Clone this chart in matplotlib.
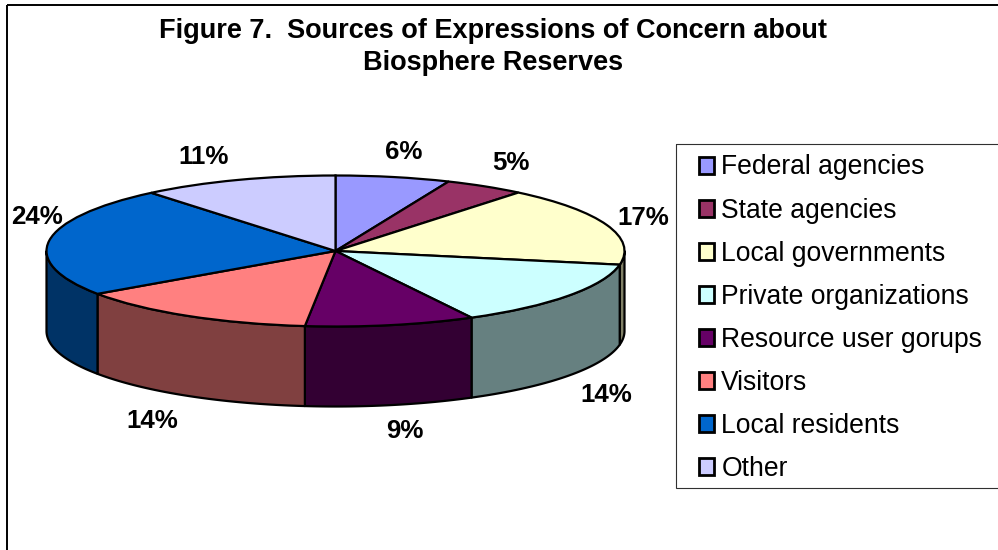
import numpy as np
import matplotlib
matplotlib.use('Agg')
from matplotlib import pyplot as plt
from matplotlib.patches import Rectangle

plt.rcParams['font.family'] = ['Liberation Sans', 'DejaVu Sans']

# data
title = 'Figure 7.  Sources of Expressions of Concern about\nBiosphere Reserves'
categories = ['Federal agencies', 'State agencies', 'Local governments', 'Private organizations',
              'Resource user gorups', 'Visitors', 'Local residents', 'Other']
values = [6.4, 4.51, 16.99, 14.3, 9.49, 13.71, 23.6, 11.0]

# colours
top_colors = ['#9999FF', '#993366', '#FFFFCC', '#CCFFFF', '#660066', '#FF8080', '#0066CC', '#CCCCFF']
side_colors = ['#4D4D80', '#4D1A33', '#808066', '#668080', '#330033', '#804040', '#003366', '#666680']

# pie geometry in pixels
W, H = 998, 550
cx, cy = 335.5, 251
rx, ry = 289, 75.5
depth = 80
# label centres in pixels
label_pos = [(404, 152), (511, 163), (643, 218), (606, 395), (405, 431), (152, 421), (37, 217), (204, 157)]

fig = plt.figure(figsize=(W / 100, H / 100), dpi=100)

# pixel layer for frames and text
bg = fig.add_axes([0, 0, 1, 1])
bg.set_xlim(0, W)
bg.set_ylim(H, 0)
bg.axis('off')
bg.add_patch(Rectangle((7.5, 4.5), W + 20, H + 20, fill=False, edgecolor='black', linewidth=1.4))
bg.add_patch(Rectangle((676, 144), W, 344, fill=False, edgecolor='#303030', linewidth=0.8))

# pie layer, one data unit = one radius
ax = fig.add_axes([0, 0, 1, 1])
ax.patch.set_alpha(0)

edges = 90 - 3.6 * np.cumsum([0] + values)
dz = depth / ry
for i in range(len(values)):
    a = min(edges[i], 0)
    b = max(edges[i + 1], -180)
    if a <= b:
        continue
    t = np.radians(np.linspace(a, b, 60))
    xs = np.concatenate([np.cos(t), np.cos(t[::-1])])
    ys = np.concatenate([np.sin(t), np.sin(t[::-1]) - dz])
    ax.fill(xs, ys, facecolor=side_colors[i], edgecolor='black', linewidth=1.6, joinstyle='round')

wedges, _ = ax.pie(values, colors=top_colors, startangle=90, counterclock=False,
                   wedgeprops={'edgecolor': 'black', 'linewidth': 1.6})
ax.set_aspect('auto')
ax.set_xlim(-cx / rx, (W - cx) / rx)
ax.set_ylim((cy - H) / ry, cy / ry)

bg.text(493, 30.5, title.split('\n')[0], ha='center', va='center', fontsize=19.5, fontweight='bold')
bg.text(493, 63.5, title.split('\n')[1], ha='center', va='center', fontsize=19.5, fontweight='bold')

for v, (x, y) in zip(values, label_pos):
    bg.text(x, y, '%.0f%%' % v, ha='center', va='center', fontsize=18.6, fontweight='bold')

leg = bg.legend(wedges, categories, loc='upper left', bbox_to_anchor=(698.5 / W, 1 - 154.5 / H),
                bbox_transform=fig.transFigure, frameon=False, fontsize=19.1, borderpad=0, borderaxespad=0,
                handlelength=0.6, handleheight=0.6, handletextpad=0.26, labelspacing=0.645)
for h in leg.legend_handles:
    h.set_linewidth(2)

fig.savefig('out.png', dpi=100)
